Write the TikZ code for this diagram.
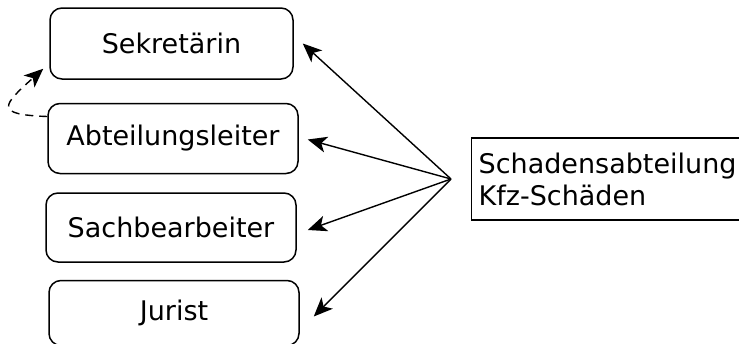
\documentclass[tikz,border=0pt]{standalone}
\usepackage{fontspec}
\setmainfont{DejaVu Sans}
\usetikzlibrary{arrows.meta,positioning}

\begin{document}
\begin{tikzpicture}[x=0.5pt, y=-0.5pt,
  font=\fontsize{13.5pt}{16pt}\selectfont,
  role/.style={draw, line width=0.75pt, rounded corners=6pt, minimum width=125pt, minimum height=35pt, inner sep=0pt},
  dept/.style={draw, line width=0.65pt, align=left, anchor=west, minimum height=41pt, text width=150pt, inner xsep=3.5pt},
  arr/.style={-{Stealth[length=9.5pt, width=8pt, inset=2.5pt]}, line width=0.7pt},
  dashedge/.style={-{Stealth[length=9.5pt, width=8pt, inset=2.5pt]}, line width=0.7pt, dash pattern=on 4pt off 3pt}]
\useasboundingbox (0,0) rectangle (739,343);

\node[role, minimum width=121.5pt, minimum height=35.5pt] (sek) at (171.5,43.5) {Sekretärin};
\node[role, below=11.5pt of sek, xshift=0.75pt] (abt) {Abteilungsleiter};
\node[role, below=9pt of abt, xshift=-1pt, minimum height=34.5pt] (sach) {Sachbearbeiter};
\node[role, below=8.5pt of sach, xshift=1.5pt, minimum height=32.5pt] (jur) {Jurist};

\node[dept] (schaden) at (471,179) {Schadensabteilung\\Kfz-Schäden};
\coordinate[left=10pt of schaden.west] (hub);

\draw[arr] (hub) -- ([xshift=4.5pt]sek.east);
\draw[arr] (hub) -- ([xshift=4.5pt, yshift=-0.5pt]abt.east);
\draw[arr] (hub) -- ([xshift=5.5pt, yshift=-1.25pt]sach.east);
\draw[arr] (hub) -- ([xshift=7pt, yshift=-1.75pt]jur.east);
\draw[dashedge] ([yshift=11pt]abt.west) to[out=178, in=222, looseness=2.9] ([xshift=-3pt, yshift=5.5pt]sek.south west);
\end{tikzpicture}
\end{document}
